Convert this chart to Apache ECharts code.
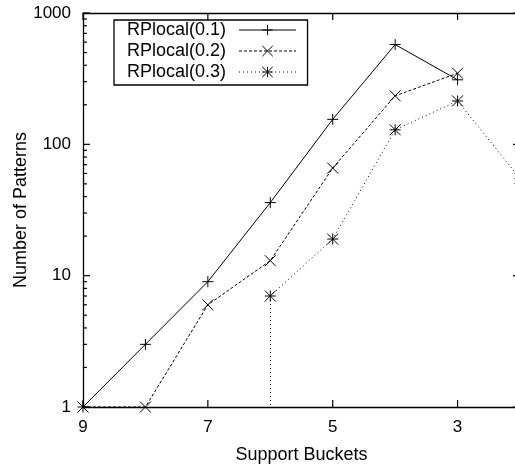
<!DOCTYPE html>
<html>
<head>
<meta charset="utf-8">
<script src="https://cdn.jsdelivr.net/npm/echarts@6/dist/echarts.min.js"></script>
<style>
  html, body { margin: 0; padding: 0; background: #fff; }
  #chart { width: 515px; height: 467px; }
</style>
</head>
<body>
<div id="chart"></div>
<script>
// Support buckets, highest first; 0 means no patterns in that bucket, null means no data.
const buckets = ['9', '8', '7', '6', '5', '4', '3', '2'];
const rpLocal01 = [1, 3, 9, 36, 155, 575, 310, null];
const rpLocal02 = [1, 1, 6, 13, 66, 234, 348, null];
const rpLocal03 = [0, 0, 0, 7, 19, 129, 214, 55];
const seriesNames = ['RPlocal(0.1)', 'RPlocal(0.2)', 'RPlocal(0.3)'];
const xTickLabels = ['9', '7', '5', '3'];
const yMajorTicks = [1, 10, 100, 1000];
const yMinorTicks = [2, 3, 4, 5, 6, 7, 8, 9, 20, 30, 40, 50, 60, 70, 80, 90, 200, 300, 400, 500, 600, 700, 800, 900];

const FONT = '"Liberation Sans", Arial, Helvetica, sans-serif';
const Y_MIN = 1, Y_MAX = 1000;
const INK = '#000';
const MAJOR_LEN = 7, MINOR_LEN = 4;

// Gnuplot-style point types drawn as stroked paths
const SYM_PLUS = 'path://M0,5L10,5M5,0L5,10';
const SYM_CROSS = 'path://M0,0L10,10M10,0L0,10';
const SYM_STAR = 'path://M0,5L10,5M5,0L5,10M0,0L10,10M10,0L0,10';

// zero counts cannot sit on a log scale: plot them as gaps
function plotted(values) {
  return values.map(v => (v === 0 ? null : v));
}

// a zero next to a positive count is drawn as a drop from that point to the axis floor
function drops(values) {
  const out = [];
  for (let i = 0; i < values.length; i++) {
    const v = values[i];
    if (v == null || v <= 0) continue;
    const prevZero = i > 0 && values[i - 1] === 0;
    const nextZero = i < values.length - 1 && values[i + 1] === 0;
    if (prevZero || nextZero) {
      out.push([{ coord: [i, v] }, { coord: [i, Y_MIN] }]);
    }
  }
  return out;
}

function makeSeries(name, values, symbol, dash) {
  return {
    name: name,
    type: 'line',
    data: plotted(values),
    symbol: symbol,
    symbolSize: 11,
    showAllSymbol: true,
    connectNulls: false,
    clip: true,
    color: INK,
    lineStyle: { color: INK, width: 1, type: dash },
    itemStyle: { color: INK, borderColor: INK, borderWidth: 1 },
    emphasis: { disabled: true },
    animation: false,
    markLine: {
      silent: true,
      symbol: 'none',
      label: { show: false },
      lineStyle: { color: INK, width: 1, type: dash },
      animation: false,
      data: drops(values)
    }
  };
}

const axisLineStyle = { show: true, lineStyle: { color: INK, width: 1.3 } };

const chart = echarts.init(document.getElementById('chart'), null, { renderer: 'canvas' });

chart.setOption({
  animation: false,
  backgroundColor: '#fff',
  textStyle: { fontFamily: FONT, color: INK },
  grid: { left: 83, top: 13, width: 437, height: 394, containLabel: false, outerBoundsMode: 'none' },
  legend: {
    data: seriesNames,
    orient: 'vertical',
    left: 114,
    top: 20,
    align: 'right',
    itemWidth: 57,
    itemHeight: 13,
    itemGap: 3,
    padding: [1, 11, 4, 13],
    borderColor: INK,
    borderWidth: 1.3,
    backgroundColor: '#fff',
    selectedMode: false,
    textStyle: { fontFamily: FONT, fontSize: 18, color: INK, lineHeight: 18, padding: [0, 8, 0, 0] },
    itemStyle: { color: INK, borderColor: INK, borderWidth: 1 },
    lineStyle: { width: 1 }
  },
  xAxis: [
    {
      type: 'category', data: buckets, boundaryGap: false, position: 'bottom',
      name: 'Support Buckets', nameLocation: 'middle', nameGap: 39, nameMoveOverlap: false,
      nameTextStyle: { fontFamily: FONT, fontSize: 18, color: INK },
      axisLine: axisLineStyle,
      axisTick: { show: false },
      axisLabel: { interval: 1, margin: 12, fontFamily: FONT, fontSize: 17, color: INK },
      splitLine: { show: false }
    },
    {
      type: 'category', data: buckets, boundaryGap: false, position: 'top',
      axisLine: axisLineStyle, axisTick: { show: false }, axisLabel: { show: false }, splitLine: { show: false }
    }
  ],
  yAxis: [
    {
      type: 'log', logBase: 10, min: Y_MIN, max: Y_MAX, position: 'left',
      name: 'Number of Patterns', nameLocation: 'middle', nameGap: 53, nameMoveOverlap: false, nameRotate: 90,
      nameTextStyle: { fontFamily: FONT, fontSize: 18, color: INK },
      axisLine: axisLineStyle,
      axisTick: { show: false },
      axisLabel: { show: true, margin: 12, fontFamily: FONT, fontSize: 17, color: INK, formatter: v => String(v) },
      splitLine: { show: false }
    },
    {
      type: 'log', logBase: 10, min: Y_MIN, max: Y_MAX, position: 'right',
      axisLine: axisLineStyle, axisTick: { show: false }, axisLabel: { show: false }, splitLine: { show: false }
    }
  ],
  series: [
    makeSeries(seriesNames[0], rpLocal01, SYM_PLUS, 'solid'),
    makeSeries(seriesNames[1], rpLocal02, SYM_CROSS, [3, 2]),
    makeSeries(seriesNames[2], rpLocal03, SYM_STAR, [1, 3])
  ]
});

// Inward ticks on all four frame edges, placed through the chart's own axis scales.
function tick(x1, y1, x2, y2) {
  return {
    type: 'line', silent: true, z: 50,
    shape: { x1: x1, y1: y1, x2: x2, y2: y2 },
    style: { stroke: INK, lineWidth: 1.2 }
  };
}

function frameTicks() {
  const toPx = (c, v) => chart.convertToPixel({ xAxisIndex: 0, yAxisIndex: 0 }, [c, v]);
  const last = buckets.length - 1;
  const els = [];
  const addY = (v, len) => {
    const l = toPx(0, v);
    const r = toPx(last, v);
    els.push(tick(l[0], l[1], l[0] + len, l[1]));
    els.push(tick(r[0], r[1], r[0] - len, r[1]));
  };
  yMajorTicks.forEach(v => addY(v, MAJOR_LEN));
  yMinorTicks.forEach(v => addY(v, MINOR_LEN));
  xTickLabels.forEach(c => {
    const b = toPx(c, Y_MIN);
    const t = toPx(c, Y_MAX);
    els.push(tick(b[0], b[1], b[0], b[1] - MAJOR_LEN));
    els.push(tick(t[0], t[1], t[0], t[1] + MAJOR_LEN));
  });
  return els;
}

chart.setOption({ graphic: { elements: frameTicks() } });
</script>
</body>
</html>
